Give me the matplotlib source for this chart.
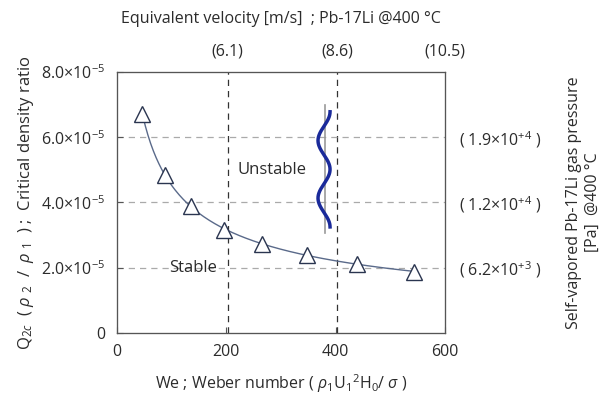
import numpy as np
import matplotlib.pyplot as plt

plt.rcParams['font.family'] = ['Open Sans', 'DejaVu Sans']
plt.rcParams['mathtext.fontset'] = 'custom'
plt.rcParams['mathtext.rm'] = 'Open Sans'
plt.rcParams['mathtext.it'] = 'Open Sans:italic'
plt.rcParams['text.color'] = '#2b2b2b'
plt.rcParams['axes.labelcolor'] = '#2b2b2b'
plt.rcParams['xtick.labelcolor'] = '#2b2b2b'
plt.rcParams['ytick.labelcolor'] = '#2b2b2b'

# measured points: Weber number vs critical density ratio
weber = [47, 88, 135, 196, 266, 348, 440, 543]
q2c = [6.7e-5, 4.85e-5, 3.9e-5, 3.16e-5, 2.72e-5, 2.39e-5, 2.12e-5, 1.88e-5]

y_ticks = [0, 2e-5, 4e-5, 6e-5, 8e-5]
y_labels = ['0', r'2.0$\times$10$^{-5}$', r'4.0$\times$10$^{-5}$',
            r'6.0$\times$10$^{-5}$', r'8.0$\times$10$^{-5}$']
x_ticks = [0, 200, 400, 600]

# top axis: equivalent velocity [m/s]
velocity = [6.1, 8.6, 10.5]
# right axis: gas pressure [Pa]
pressure_pos = [2e-5, 4e-5, 6e-5]
pressure_labels = [r'( 6.2$\times$10$^{+3}$ )', r'( 1.2$\times$10$^{+4}$ )',
                   r'( 1.9$\times$10$^{+4}$ )']

fig = plt.figure(figsize=(6.02, 4.09), dpi=100)
ax = fig.add_axes([0.194, 0.186, 0.545, 0.638])

# power-law trend through the points
k, b = np.polyfit(np.log(weber), np.log(q2c), 1)
xf = np.linspace(weber[0], weber[-1], 200)
ax.plot(xf, np.exp(b) * xf ** k, color='#5a6a8a', lw=1.0, zorder=2)
ax.plot(weber, q2c, ls='none', marker='^', ms=12, mfc='white',
        mec='#2a3550', mew=1.0, zorder=3)

# velocity lines (We proportional to U^2)
vel_we = [600 * (v / velocity[-1]) ** 2 for v in velocity]
for w in vel_we[:2]:
    ax.axvline(w, color='#333333', ls=(0, (5, 4)), lw=0.9, zorder=1)
for yv in pressure_pos:
    ax.axhline(yv, color='#aaaaaa', ls=(0, (5, 4)), lw=0.9, zorder=1)

# wavy interface sketch
ax.plot([381, 381], [3.07e-5, 7.0e-5], color='#999999', lw=1.2, zorder=2)
t = np.linspace(0, 1, 200)
ax.plot(379 + 11 * np.cos(2 * np.pi * 2 * t), 6.78e-5 - t * 3.53e-5,
        color='#1a2a9a', lw=2.5, zorder=3)

ax.text(283, 5.0e-5, 'Unstable', ha='center', va='center', fontsize=12)
ax.text(140, 2.0e-5, 'Stable', ha='center', va='center', fontsize=12)

ax.set_xlim(0, 600)
ax.set_ylim(0, 8e-5)
ax.set_xticks(x_ticks)
ax.set_yticks(y_ticks)
ax.set_yticklabels(y_labels)
ax.tick_params(direction='in', labelsize=11.5, length=4, color='#555555', pad=8)
for s in ax.spines.values():
    s.set_color('#555555')

ax.set_xlabel(r'We ; Weber number ( $\rho$$_1$U$_1$$^2$H$_0$/ $\sigma$ )',
              fontsize=11.5, labelpad=9)
ax.set_ylabel(r'Q$_{2c}$  ( $\rho$ $_2$  /  $\rho$ $_1$  ) ;  Critical density ratio',
              fontsize=12, labelpad=4)

axt = ax.twiny()
axt.set_xlim(0, 600)
axt.set_xticks(vel_we)
axt.set_xticklabels(['(%s)' % v for v in velocity])
axt.tick_params(length=0, labelsize=11.5, pad=9)
axt.set_xlabel('Equivalent velocity [m/s]  ; Pb-17Li @400 \u00b0C',
               fontsize=11.5, labelpad=15)

axr = ax.twinx()
axr.set_ylim(0, 8e-5)
axr.set_yticks(pressure_pos)
axr.set_yticklabels(pressure_labels)
axr.tick_params(length=0, labelsize=11.5, pad=10)
axr.set_ylabel('Self-vapored Pb-17Li gas pressure\n[Pa]  @400 \u00b0C',
               fontsize=11.5, labelpad=18)
for a in (axt, axr):
    for s in a.spines.values():
        s.set_color('#555555')

fig.savefig('out.png', dpi=100)
